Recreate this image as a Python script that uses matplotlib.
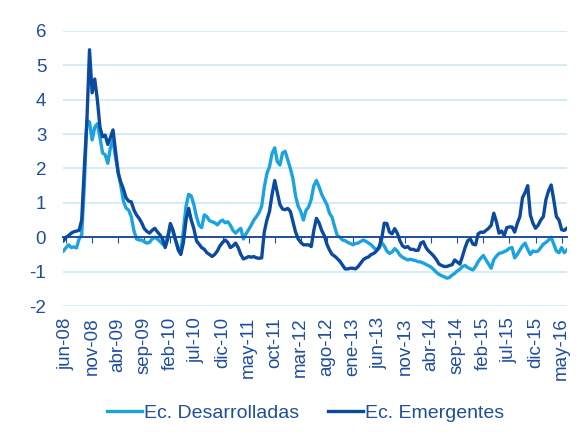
import numpy as np
import matplotlib

matplotlib.use("Agg")
import matplotlib.pyplot as plt

LIGHT = "#1aa3e0"
DARK = "#0b4a9e"
TEXT = "#1f4e9c"
GRID = "#c8e7f7"

plt.rcParams.update({
    "font.family": ["Liberation Sans", "DejaVu Sans"],
    "font.size": 13.5,
    "text.color": TEXT,
    "axes.unicode_minus": False,
})

# semi-monthly readings, months since jun-08 (start -0.5, step 0.5)
t_start, t_step = -0.5, 0.5

desarrolladas = [
    -0.4, -0.3, -0.22, -0.3, -0.28, -0.31, -0.05, 0.07, 1.5, 3.4,
    3.35, 2.83, 3.2, 3.3, 2.9, 2.45, 2.4, 2.15, 2.6, 2.83,
    2.3, 1.9, 1.5, 1.05, 0.85, 0.79, 0.6, 0.2, -0.05, -0.08,
    -0.08, -0.13, -0.17, -0.15, -0.05, 0.0, -0.05, -0.12, -0.2, -0.25,
    0.05, 0.35, 0.15, -0.1, -0.3, -0.45, 0.2, 0.9, 1.25, 1.2,
    0.95, 0.6, 0.35, 0.28, 0.65, 0.6, 0.48, 0.45, 0.42, 0.36,
    0.45, 0.5, 0.42, 0.45, 0.35, 0.2, 0.12, 0.2, 0.26, -0.05,
    0.1, 0.22, 0.35, 0.5, 0.6, 0.72, 0.9, 1.45, 1.85, 2.05,
    2.44, 2.6, 2.2, 2.1, 2.45, 2.5, 2.25, 2.0, 1.7, 1.2,
    0.9, 0.75, 0.5, 0.78, 0.88, 1.1, 1.5, 1.65, 1.47, 1.25,
    1.1, 0.95, 0.7, 0.58, 0.3, 0.05, 0.0, -0.08, -0.1, -0.15,
    -0.18, -0.22, -0.18, -0.17, -0.12, -0.08, -0.12, -0.17, -0.22, -0.3,
    -0.37, -0.33, -0.15, -0.25, -0.4, -0.47, -0.43, -0.33, -0.4, -0.52,
    -0.58, -0.62, -0.66, -0.64, -0.66, -0.68, -0.71, -0.72, -0.75, -0.79,
    -0.83, -0.87, -0.94, -1.02, -1.08, -1.12, -1.15, -1.19, -1.17, -1.1,
    -1.05, -0.98, -0.93, -0.85, -0.82, -0.88, -0.92, -0.95, -0.85, -0.71,
    -0.61, -0.53, -0.66, -0.78, -0.9, -0.65, -0.55, -0.47, -0.45, -0.42,
    -0.38, -0.32, -0.3, -0.6, -0.5, -0.37, -0.25, -0.17, -0.35, -0.5,
    -0.4, -0.42, -0.4, -0.3, -0.2, -0.15, -0.08, 0.0, -0.2, -0.4,
    -0.45, -0.3, -0.45, -0.37,
]

emergentes = [
    -0.1, 0.0, 0.05, 0.12, 0.16, 0.18, 0.2, 0.5, 2.0, 3.4,
    5.45, 4.2, 4.6, 4.0, 3.2, 2.92, 2.97, 2.7, 2.9, 3.12,
    2.5, 1.86, 1.6, 1.4, 1.15, 1.05, 1.03, 0.8, 0.65, 0.55,
    0.42, 0.25, 0.17, 0.12, 0.2, 0.26, 0.16, 0.07, -0.05, -0.3,
    -0.05, 0.4, 0.21, -0.08, -0.37, -0.5, -0.15, 0.5, 0.84, 0.5,
    0.25, -0.1, -0.2, -0.3, -0.35, -0.45, -0.5, -0.56, -0.5, -0.4,
    -0.25, -0.15, -0.08, -0.15, -0.3, -0.25, -0.17, -0.3, -0.5, -0.63,
    -0.6, -0.56, -0.58, -0.56, -0.6, -0.61, -0.6, 0.15, 0.5, 0.75,
    1.25, 1.65, 1.3, 0.95, 0.82, 0.8, 0.84, 0.75, 0.45, 0.15,
    -0.05, -0.15, -0.22, -0.22, -0.22, -0.27, 0.2, 0.55, 0.42, 0.2,
    0.05, -0.2, -0.37, -0.5, -0.55, -0.62, -0.7, -0.81, -0.92, -0.92,
    -0.9, -0.9, -0.92, -0.85, -0.75, -0.65, -0.6, -0.57, -0.5, -0.47,
    -0.4, -0.28, -0.05, 0.41, 0.4, 0.15, 0.1, 0.25, 0.12, -0.1,
    -0.25, -0.3, -0.27, -0.35, -0.35, -0.38, -0.38, -0.17, -0.13, -0.3,
    -0.4, -0.47, -0.55, -0.65, -0.78, -0.82, -0.85, -0.85, -0.82, -0.8,
    -0.66, -0.72, -0.78, -0.55, -0.3, -0.1, -0.05, -0.2, -0.22, 0.1,
    0.15, 0.14, 0.2, 0.26, 0.35, 0.7, 0.45, 0.12, 0.18, 0.05,
    0.28, 0.3, 0.3, 0.15, 0.4, 0.6, 1.15, 1.3, 1.5, 0.65,
    0.41, 0.26, 0.35, 0.5, 0.6, 1.1, 1.35, 1.52, 1.08, 0.6,
    0.5, 0.22, 0.2, 0.26,
]

tick_labels = ["jun-08", "nov-08", "abr-09", "sep-09", "feb-10", "jul-10",
               "dic-10", "may-11", "oct-11", "mar-12", "ago-12", "ene-13",
               "jun-13", "nov-13", "abr-14", "sep-14", "feb-15", "jul-15",
               "dic-15", "may-16"]
tick_months = np.arange(len(tick_labels)) * 5

t = t_start + t_step * np.arange(len(emergentes))

fig = plt.figure(figsize=(5.88, 4.41), dpi=100)
ax = fig.add_axes([0.107, 0.306, 0.857, 0.624])

for v in range(-2, 7):
    if v != 0:
        ax.axhline(v, color=GRID, lw=1.1, zorder=0)

ax.plot(t, desarrolladas, color=LIGHT, lw=2.4, label="Ec. Desarrolladas", zorder=2)
ax.plot(t, emergentes, color=DARK, lw=2.4, label="Ec. Emergentes", zorder=3)

ax.set_xlim(-0.6, 96.0)
ax.set_ylim(-2, 6)
ax.set_yticks(range(-2, 7))
ax.tick_params(axis="y", length=0, pad=12, labelcolor=TEXT)

# zero line carries the tick marks
for s in ["top", "right", "left"]:
    ax.spines[s].set_visible(False)
ax.spines["bottom"].set_position(("data", 0))
ax.spines["bottom"].set_color(TEXT)
ax.spines["bottom"].set_linewidth(1.4)
ax.set_xticks(tick_months)
ax.tick_params(axis="x", direction="out", length=4, color=TEXT, labelbottom=False)

sec = ax.secondary_xaxis("bottom")
sec.set_xticks(tick_months, tick_labels, rotation=90)
sec.tick_params(length=0, pad=8, labelcolor=TEXT)
sec.spines["bottom"].set_visible(False)

fig.legend(loc="center", bbox_to_anchor=(0.52, 0.063), ncol=2, frameon=False,
           fontsize=14, handlelength=1.8, handletextpad=0.1, columnspacing=1.5,
           labelcolor=TEXT)

fig.savefig("out.png", dpi=100, facecolor="white")
